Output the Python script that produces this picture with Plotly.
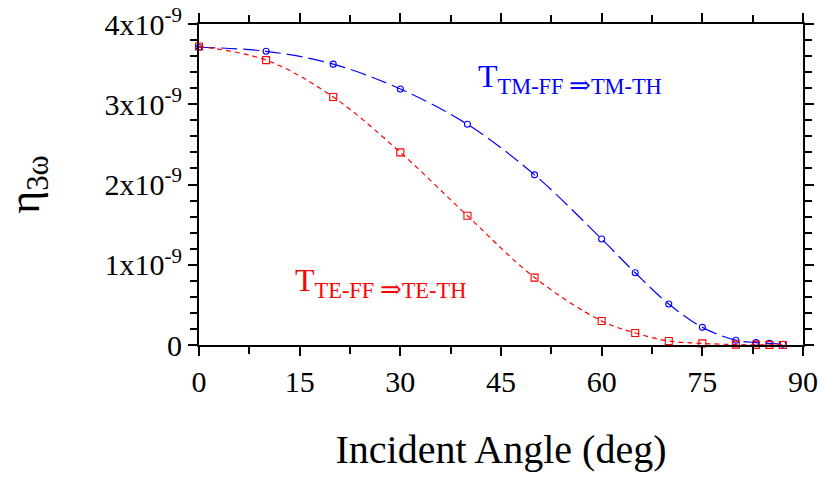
import plotly.graph_objects as go

angles = [0, 10, 20, 30, 40, 50, 60, 65, 70, 75, 80, 83, 85, 87]
eta_tm = [3.71e-9, 3.66e-9, 3.50e-9, 3.19e-9, 2.75e-9, 2.12e-9, 1.32e-9, 0.90e-9,
          0.51e-9, 0.22e-9, 0.06e-9, 0.03e-9, 0.02e-9, 0.01e-9]
eta_te = [3.72e-9, 3.55e-9, 3.09e-9, 2.40e-9, 1.61e-9, 0.84e-9, 0.30e-9, 0.15e-9,
          0.05e-9, 0.02e-9, 0.005e-9, 0.002e-9, 0.001e-9, 0.0005e-9]
x_ticks = [0, 15, 30, 45, 60, 75, 90]
y_ticks = [0, 1e-9, 2e-9, 3e-9, 4e-9]
y_ticktext = ["0", "1x10<sup>-9</sup>", "2x10<sup>-9</sup>", "3x10<sup>-9</sup>", "4x10<sup>-9</sup>"]

FONT = "'Liberation Serif', 'Times New Roman', Times, serif"

fig = go.Figure()
fig.add_trace(go.Scatter(
    x=angles, y=eta_tm, mode="lines+markers", cliponaxis=False,
    line=dict(color="#0000ff", width=1.2, dash="16px,6px", shape="spline"),
    marker=dict(symbol="circle-open", size=6, color="#0000ff", line=dict(width=1.1)),
    showlegend=False))
fig.add_trace(go.Scatter(
    x=angles, y=eta_te, mode="lines+markers", cliponaxis=False,
    line=dict(color="#ff0000", width=1.2, dash="5px,4px", shape="spline"),
    marker=dict(symbol="square-open", size=7, color="#ff0000", line=dict(width=1.1)),
    showlegend=False))

axis_common = dict(
    showline=True, linecolor="black", linewidth=2, mirror="allticks",
    ticks="outside", ticklen=9, tickwidth=1.5, tickcolor="black",
    showgrid=False, zeroline=False, automargin=False,
    tickfont=dict(family=FONT, size=30, color="black"),
)

fig.update_xaxes(
    range=[0, 90], tickvals=x_ticks,
    minor=dict(dtick=7.5, ticks="outside", ticklen=7, tickwidth=1.5, tickcolor="black", showgrid=False),
    title=dict(text="Incident Angle (deg)", font=dict(family=FONT, size=40, color="black"), standoff=38),
    **axis_common)
fig.update_yaxes(
    range=[0, 4e-9], tickvals=y_ticks, ticktext=y_ticktext,
    minor=dict(dtick=0.2e-9, ticks="outside", ticklen=7, tickwidth=1.5, tickcolor="black", showgrid=False),
    title=dict(text="η<sub>3ω</sub>", font=dict(family=FONT, size=44, color="black"), standoff=62),
    **axis_common)

ARROW = "<span style='font-size:26px; font-family:\"DejaVu Serif\"'>⇒</span>"
fig.add_annotation(
    xref="x", yref="y", x=(476 - 199) / 604 * 90, y=(345 - 56) / 321 * 4e-9,
    xanchor="left", yanchor="top", showarrow=False,
    text="T<sub>TM-FF " + ARROW + "TM-TH</sub>",
    font=dict(family=FONT, size=32, color="#0000ff"))
fig.add_annotation(
    xref="x", yref="y", x=(293 - 199) / 604 * 90, y=(345 - 260) / 321 * 4e-9,
    xanchor="left", yanchor="top", showarrow=False,
    text="T<sub>TE-FF " + ARROW + "TE-TH</sub>",
    font=dict(family=FONT, size=32, color="#ff0000"))

fig.update_layout(
    width=821, height=477,
    margin=dict(l=199, r=18, t=24, b=132),
    paper_bgcolor="white", plot_bgcolor="white",
)

fig.write_html("out.html")
